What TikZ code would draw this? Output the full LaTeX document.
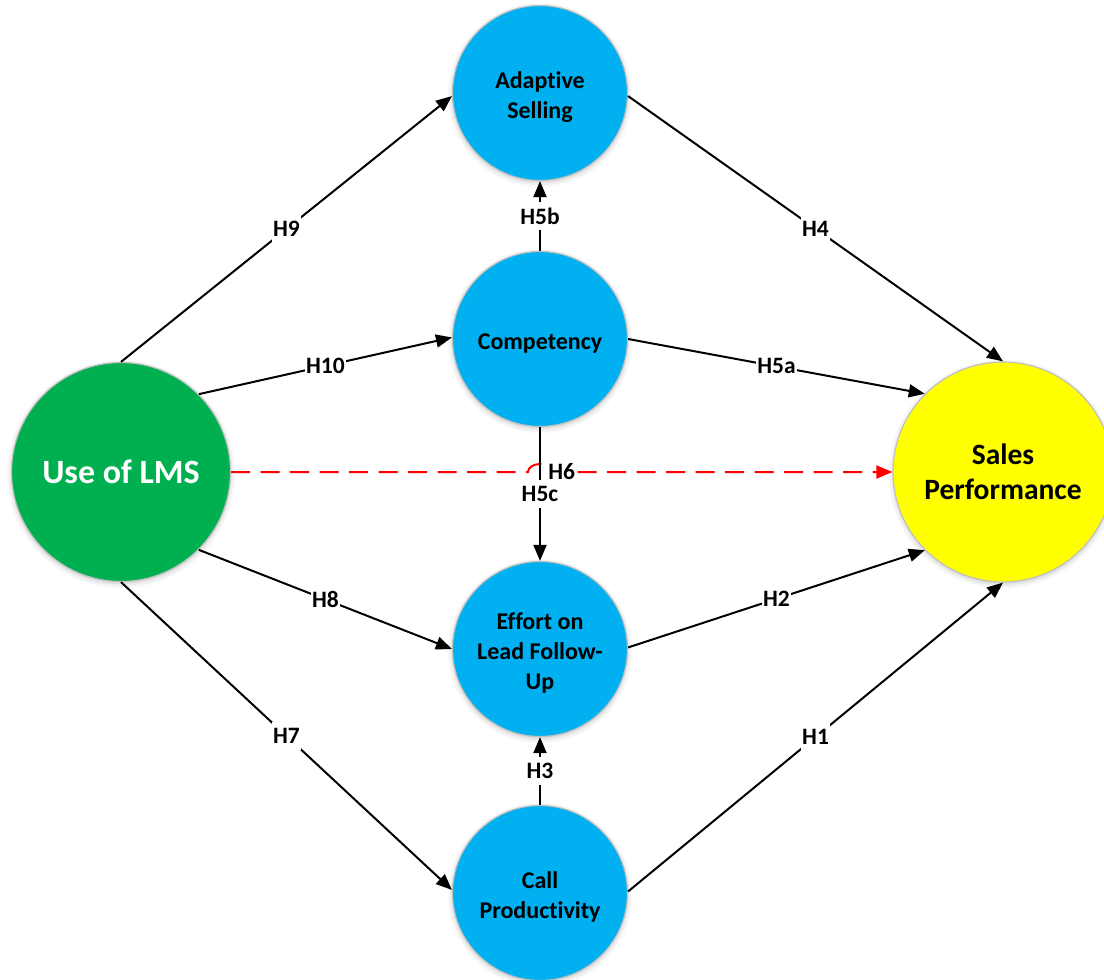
\documentclass[tikz,border=0pt]{standalone}
\usepackage{fontspec}
\setmainfont{Carlito}[Ligatures=NoCommon]
\usetikzlibrary{arrows.meta,shadows.blur,calc}

\definecolor{lmsgreen}{HTML}{00B050}
\definecolor{constructblue}{HTML}{00B0F0}
\definecolor{outcomeyellow}{HTML}{FFFF00}
\definecolor{rimgray}{HTML}{C0C0C0}
\definecolor{directred}{HTML}{FF0000}

% centred stack of lines, set a little lower inside the circle
\newcommand\circtext[1]{\raisebox{-4pt}[\height][\depth]{%
  \begin{tabular}{@{}c@{}}#1\end{tabular}}}

\begin{document}
\begin{tikzpicture}[x=1pt,y=-1pt,
  construct/.style={circle, draw=rimgray, line width=1.2pt, inner sep=0pt,
    minimum size=175pt, align=center,
    font=\fontsize{24}{30}\selectfont\bfseries,
    blur shadow={shadow xshift=0pt, shadow yshift=-2pt,
      shadow blur radius=5pt, shadow opacity=22}},
  link/.style={line width=2pt, -{Triangle[length=16pt,width=13pt]}},
  hlabel/.style={fill=white, inner xsep=1.5pt, inner ysep=6pt,
    font=\fontsize{23.5}{26}\selectfont\bfseries},
]
\useasboundingbox (0,0) rectangle (1104,980);

% constructs
\node[construct, fill=lmsgreen, minimum size=219pt, text=white,
      font=\fontsize{34}{40}\selectfont\bfseries] (lms) at (121,472) {Use of LMS};
\node[construct, fill=outcomeyellow, minimum size=220pt,
      font=\fontsize{29.5}{35}\selectfont\bfseries] (sales) at (1003,472) {Sales\\Performance};
\node[construct, fill=constructblue] (adapt)  at (540,93)  {\circtext{Adaptive\\Selling}};
\node[construct, fill=constructblue] (comp)   at (540,339) {\circtext{Competency}};
\node[construct, fill=constructblue] (effort) at (540,649) {\circtext{Effort on\\Lead Follow-\\Up}};
\node[construct, fill=constructblue] (call)   at (540,893) {\circtext{Call\\Productivity}};

% direct effect (dashed), hopping over the H5c connector
\coordinate (hop) at (comp.south |- lms.east);
\draw[line width=2pt, directred, dash pattern=on 19pt off 10.5pt,
      -{Triangle[length=16pt,width=13pt]}]
  (lms.east) -- ($(hop)+(-12,0)$)
  arc[start angle=180, end angle=0, x radius=12pt, y radius=8pt]
  -- (sales.west);
\node[hlabel] (h6) at ($(lms.east)!0.5!(sales.west)$) {H6};

% hypothesised paths
\draw[link] (lms.90)   -- node[hlabel] {H9}  (adapt.182);
\draw[link] (lms.45)   -- node[hlabel] {H10} (comp.179);
\draw[link] (lms.-45)  -- node[hlabel] {H8}  (effort.180);
\draw[link] (lms.270)  -- node[hlabel] {H7}  (call.178);
\draw[link] (adapt.358) -- node[hlabel] {H4}  (sales.90);
\draw[link] (comp.0)   -- node[hlabel] {H5a} (sales.135);
\draw[link] (effort.1) -- node[hlabel] {H2}  (sales.225);
\draw[link] (call.1)   -- node[hlabel] {H1}  (sales.270);
\draw[link] (comp.90)  -- node[hlabel] {H5b} (adapt.270);
\draw[link] (comp.270) -- node[hlabel] {H5c} (effort.90);
\draw[link] (call.90)  -- node[hlabel] {H3}  (effort.270);
\end{tikzpicture}
\end{document}
